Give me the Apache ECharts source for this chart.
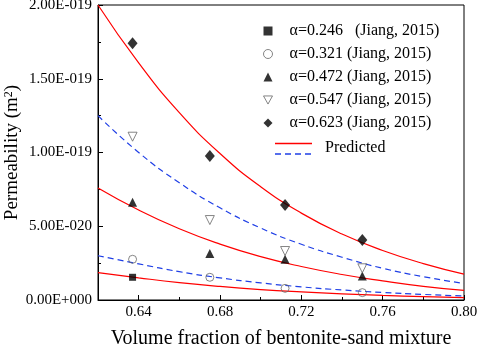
<!DOCTYPE html>
<html>
<head>
<meta charset="utf-8">
<script src="https://cdn.jsdelivr.net/npm/echarts@6/dist/echarts.min.js"></script>
<style>
  html, body { margin: 0; padding: 0; background: #fff; }
  #main { width: 477px; height: 344px; }
</style>
</head>
<body>
<div id="main"></div>
<script>
// 渗透率数据, 单位 1e-20 m2
var xMeas = [0.637, 0.675, 0.712, 0.750];
var k246 = [1.54];
var k321 = [2.76, 1.54, 0.79, 0.50];
var k472 = [6.62, 3.16, 2.76, 1.63];
var k547 = [11.07, 5.42, 3.32, 2.15];
var k623 = [17.40, 9.76, 6.44, 4.07];

// 预测曲线
var xFit = [0.62, 0.64, 0.66, 0.68, 0.70, 0.72, 0.74, 0.76, 0.78, 0.80];
var fit246 = [1.85, 1.50, 1.18, 0.92, 0.71, 0.55, 0.42, 0.31, 0.23, 0.16];
var fit321 = [3.00, 2.45, 1.92, 1.50, 1.16, 0.89, 0.68, 0.51, 0.38, 0.27];
var fit472 = [7.60, 6.10, 4.83, 3.79, 2.94, 2.27, 1.73, 1.30, 0.93, 0.65];
var fit547 = [12.5, 10.0, 7.95, 6.25, 4.88, 3.78, 2.90, 2.15, 1.58, 1.12];
var fit623 = [20.0, 16.07, 12.7, 9.93, 7.68, 5.89, 4.47, 3.36, 2.47, 1.76];

var xMajor = [0.64, 0.68, 0.72, 0.76, 0.80];
var xMinor = [0.66, 0.70, 0.74, 0.78];

var FONT = 'Liberation Serif';

function pairs(xs, ys) {
  return ys.map(function (y, i) { return [xs[i], y]; });
}

// 2.00E-019 这种格式
function sciLabel(v) {
  if (v === 0) return '0.00E+000';
  var e = Math.floor(Math.log10(v) + 1e-9);
  var m = v / Math.pow(10, e);
  var ex = e - 20;
  var s = ex < 0 ? '-' : '+';
  var a = String(Math.abs(ex));
  while (a.length < 3) a = '0' + a;
  return m.toFixed(2) + 'E' + s + a;
}

function fitLine(name, data, color, dashed) {
  return {
    name: name,
    type: 'line',
    data: pairs(xFit, data),
    smooth: true,
    showSymbol: false,
    silent: true,
    z: 1,
    lineStyle: { color: color, width: 1.2, type: dashed ? [6, 4] : 'solid' }
  };
}

function measured(name, data, symbol, size, style, rotate) {
  return {
    name: name,
    type: 'scatter',
    data: pairs(xMeas, data),
    symbol: symbol,
    symbolSize: size,
    symbolRotate: rotate || 0,
    z: 3,
    itemStyle: style
  };
}

var chart = echarts.init(document.getElementById('main'));

var filled = { color: '#000' };
var hollow = { color: 'transparent', borderColor: '#666', borderWidth: 1 };
var downTri = 'path://M0,0 L10,0 L5,9 Z';

var names = [
  'α=0.246   (Jiang, 2015)',
  'α=0.321 (Jiang, 2015)',
  'α=0.472 (Jiang, 2015)',
  'α=0.547 (Jiang, 2015)',
  'α=0.623 (Jiang, 2015)'
];

var option = {
  animation: false,
  grid: {
    left: 98, right: 13, top: 5, bottom: 44,
    outerBoundsMode: 'none', containLabel: false,
    show: true, borderColor: '#000', borderWidth: 1
  },
  legend: {
    data: [
      { name: names[0], itemStyle: { color: '#000', borderWidth: 0 } },
      { name: names[1], itemStyle: { color: 'transparent', borderColor: '#666', borderWidth: 1 } },
      { name: names[2], itemStyle: { color: '#000', borderWidth: 0 } },
      { name: names[3], icon: downTri, itemStyle: { color: 'transparent', borderColor: '#666', borderWidth: 1 } },
      { name: names[4], itemStyle: { color: '#000', borderWidth: 0 } }
    ],
    orient: 'vertical',
    left: 258,
    top: 18,
    itemWidth: 9,
    itemHeight: 9,
    itemGap: 7,
    selectedMode: false,
    formatter: function (n) { return '   ' + n; },
    textStyle: { fontFamily: FONT, fontSize: 16, color: '#000', lineHeight: 16 }
  },
  xAxis: [{
    type: 'value',
    min: 0.62,
    max: 0.80,
    name: 'Volume fraction of bentonite-sand mixture',
    nameLocation: 'middle',
    nameGap: 29,
    nameMoveOverlap: false,
    nameTextStyle: { fontFamily: FONT, fontSize: 20, color: '#000' },
    axisLine: { lineStyle: { color: '#000', width: 1 } },
    axisTick: { inside: true, length: 5, customValues: xMajor, lineStyle: { color: '#000' } },
    axisLabel: {
      customValues: xMajor,
      formatter: function (v) { return v.toFixed(2); },
      fontFamily: FONT, fontSize: 15, color: '#000', margin: 5
    },
    splitLine: { show: false }
  }, {
    // 次刻度
    type: 'value',
    min: 0.62,
    max: 0.80,
    position: 'bottom',
    axisLine: { show: false },
    axisTick: { inside: true, length: 3, customValues: xMinor, lineStyle: { color: '#000' } },
    axisLabel: { show: false },
    splitLine: { show: false }
  }],
  yAxis: {
    type: 'value',
    min: 0,
    max: 20,
    interval: 5,
    name: 'Permeability (m{sup|2})',
    nameLocation: 'middle',
    nameGap: 76,
    nameMoveOverlap: false,
    nameTextStyle: {
      fontFamily: FONT, fontSize: 19, color: '#000',
      rich: { sup: { fontFamily: FONT, fontSize: 12, verticalAlign: 'top', padding: [0, 0, 7, 0], color: '#000' } }
    },
    axisLine: { show: true, lineStyle: { color: '#000', width: 1 } },
    axisTick: { show: true, inside: true, length: 5, lineStyle: { color: '#000' } },
    minorTick: { show: true, splitNumber: 2, length: 3, lineStyle: { color: '#000' } },
    axisLabel: { formatter: sciLabel, fontFamily: FONT, fontSize: 15, color: '#000', margin: 6 },
    splitLine: { show: false }
  },
  graphic: [
    { type: 'line', shape: { x1: 275, y1: 143.5, x2: 312, y2: 143.5 }, style: { stroke: '#ff0000', lineWidth: 1.3 } },
    { type: 'line', shape: { x1: 275, y1: 154, x2: 312, y2: 154 }, style: { stroke: '#1f3fe6', lineWidth: 1.3, lineDash: [6, 4] } },
    { type: 'text', left: 325, top: 140, style: { text: 'Predicted', font: '16px "Liberation Serif"', fill: '#000' } }
  ],
  series: [
    fitLine('fit246', fit246, '#ff0000', false),
    fitLine('fit321', fit321, '#1f3fe6', true),
    fitLine('fit472', fit472, '#ff0000', false),
    fitLine('fit547', fit547, '#1f3fe6', true),
    fitLine('fit623', fit623, '#ff0000', false),
    measured(names[0], k246, 'rect', 7, filled),
    measured(names[1], k321, 'circle', 8, hollow),
    measured(names[2], k472, 'triangle', 9, filled),
    measured(names[3], k547, 'triangle', 9, hollow, 180),
    measured(names[4], k623, 'diamond', [10, 12], filled)
  ]
};

chart.setOption(option);
</script>
</body>
</html>
